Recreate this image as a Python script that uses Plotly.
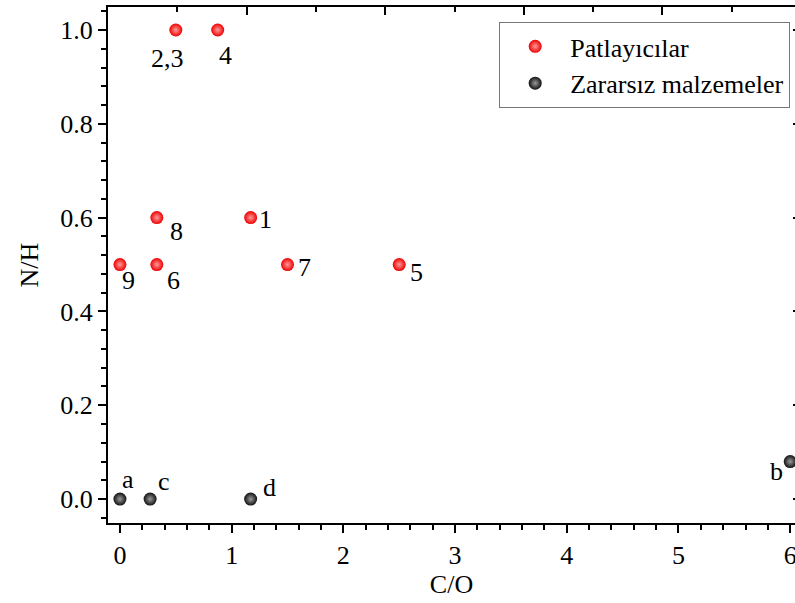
import plotly.graph_objects as go

# ---- data ----
exp_x = [1.17, 0.5, 0.875, 2.5, 0.33, 1.5, 0.33, 0.0]
exp_y = [0.6, 1.0, 1.0, 0.5, 0.5, 0.5, 0.6, 0.5]
exp_labels = ["1", "2,3", "4", "5", "6", "7", "8", "9"]

safe_x = [0.0, 6.0, 0.27, 1.17]
safe_y = [0.0, 0.08, 0.0, 0.0]
safe_labels = ["a", "b", "c", "d"]

series_names = ["Patlayıcılar", "Zararsız malzemeler"]

x_ticks = [0, 1, 2, 3, 4, 5, 6]

# label offsets in pixels (dx, dy up)
exp_offsets = {"1": (15, -2), "2,3": (-8, -29), "4": (8, -26), "5": (17, -8),
               "6": (17, -16), "7": (17, -3), "8": (20, -14), "9": (9, -16)}
safe_offsets = {"a": (8, 20), "b": (-14, -10), "c": (14, 18), "d": (19, 12)}

FONT = "Liberation Serif"
FS = 26

fig = go.Figure()
fig.add_trace(go.Scatter(
    x=exp_x, y=exp_y, mode="markers", name=series_names[0],
    marker=dict(size=13, color="#ee0000", line=dict(width=0),
                gradient=dict(type="radial", color="#ff9a9a")),
    cliponaxis=False))
fig.add_trace(go.Scatter(
    x=safe_x, y=safe_y, mode="markers", name=series_names[1],
    marker=dict(size=13, color="#111111", line=dict(width=0),
                gradient=dict(type="radial", color="#9a9a9a")),
    cliponaxis=False))
# empty helper traces so the top and right frame axes get drawn
for xa, ya in [("x2", "y"), ("x3", "y"), ("x", "y2")]:
    fig.add_trace(go.Scatter(x=[None], y=[None], xaxis=xa, yaxis=ya,
                             showlegend=False, hoverinfo="skip"))

for xs, ys, labs, offs in [(exp_x, exp_y, exp_labels, exp_offsets),
                           (safe_x, safe_y, safe_labels, safe_offsets)]:
    for xv, yv, lab in zip(xs, ys, labs):
        dx, dy = offs[lab]
        fig.add_annotation(x=xv, y=yv, text=lab, showarrow=False,
                           xshift=dx, yshift=dy,
                           font=dict(family=FONT, size=FS, color="black"))

W, H = 795, 603
ml, mr, mt, mb = 108, 0, 7, 80
plot_w = W - ml - mr
top_range = [0, plot_w / 138.6]

top_common = dict(overlaying="x", side="top", anchor="y", range=top_range,
                  tick0=0, showgrid=False, zeroline=False,
                  showticklabels=False, ticks="inside", tickwidth=1.5,
                  tickcolor="black", ticklabeloverflow="allow",
                  automargin=False)

fig.update_layout(
    width=W, height=H,
    margin=dict(l=ml, r=mr, t=mt, b=mb),
    paper_bgcolor="white", plot_bgcolor="white",
    font=dict(family=FONT, size=FS, color="black"),
    showlegend=True,
    legend=dict(x=0.993, y=0.971, xanchor="right", yanchor="top",
                bordercolor="#777777", borderwidth=1, bgcolor="white",
                font=dict(family=FONT, size=FS), itemwidth=60,
                tracegroupgap=0),
    xaxis=dict(range=[-0.107, 6.043], tickmode="array", tickvals=x_ticks,
               automargin=False, ticklabeloverflow="allow",
               showgrid=False, zeroline=False,
               showline=True, linecolor="black", linewidth=2,
               ticks="outside", ticklen=8, tickwidth=1.5, tickcolor="black",
               minor=dict(dtick=0.2, tick0=0, ticks="outside", ticklen=5,
                          tickwidth=1.5, tickcolor="black", showgrid=False),
               title=dict(text="C/O", standoff=4,
                          font=dict(family=FONT, size=FS)),
               tickfont=dict(family=FONT, size=FS)),
    yaxis=dict(range=[-0.051, 1.049], dtick=0.2, tick0=0, tickformat=".1f",
               automargin=False, ticklabeloverflow="allow",
               showgrid=False, zeroline=False,
               showline=True, linecolor="black", linewidth=2,
               ticks="outside", ticklen=8, tickwidth=1.5, tickcolor="black",
               minor=dict(dtick=0.04, tick0=0, ticks="outside", ticklen=5,
                          tickwidth=1.5, tickcolor="black", showgrid=False),
               title=dict(text="N/H", standoff=14,
                          font=dict(family=FONT, size=FS)),
               tickfont=dict(family=FONT, size=FS)),
    xaxis2=dict(dtick=1, ticklen=8, showline=True, linecolor="black",
                linewidth=2, **top_common),
    xaxis3=dict(dtick=0.5, ticklen=5, showline=False, **top_common),
    yaxis2=dict(overlaying="y", side="right", anchor="x",
                range=[-0.051, 1.049], dtick=0.2, tick0=0,
                automargin=False, ticklabeloverflow="allow",
                showgrid=False, zeroline=False, showticklabels=False,
                showline=False, ticks="inside", ticklen=2, tickwidth=1.5,
                tickcolor="black"),
)

fig.write_html("out.html")
